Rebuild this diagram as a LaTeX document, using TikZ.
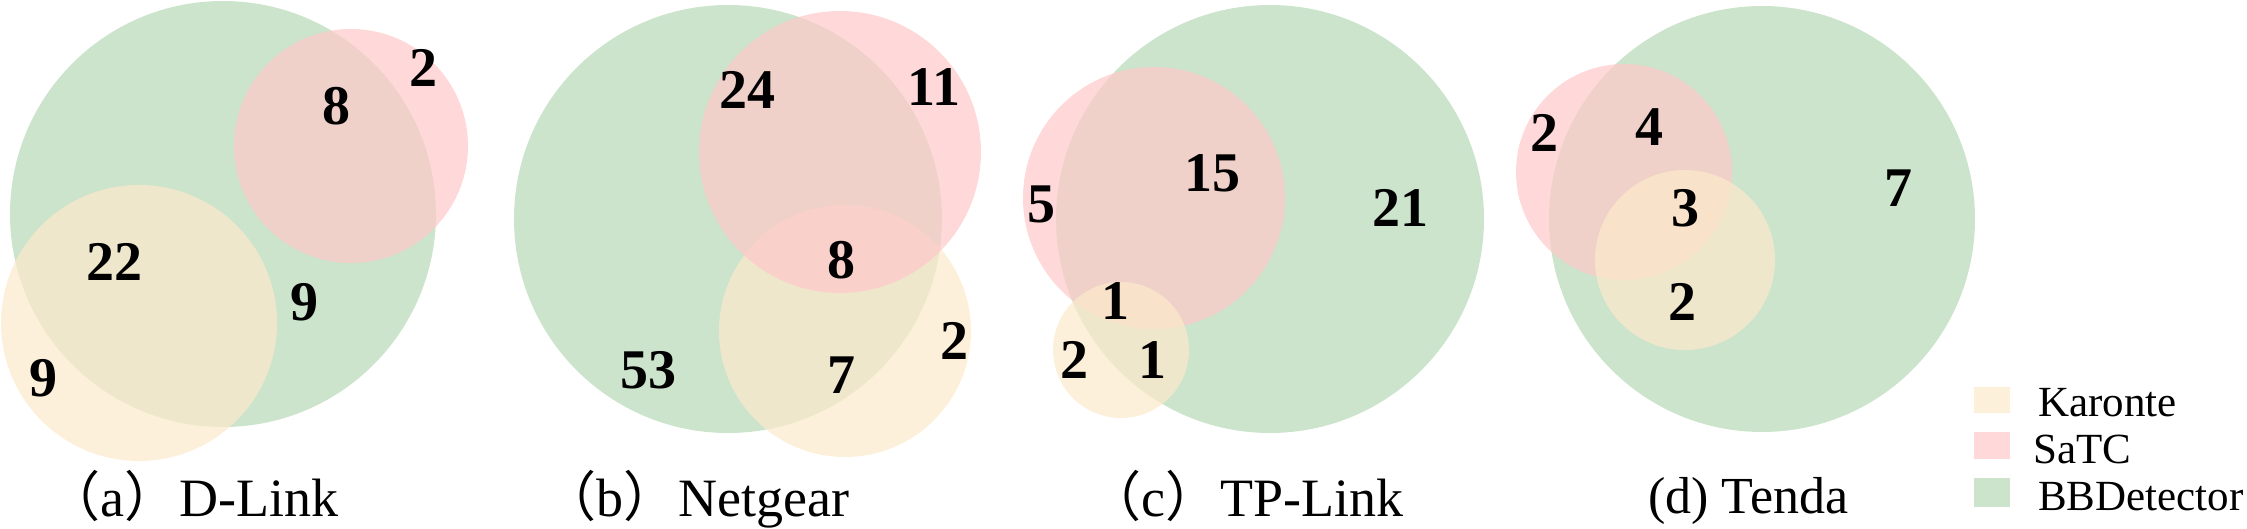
\documentclass[tikz,border=0pt]{standalone}
\usepackage{fontspec}
\setmainfont{Liberation Serif}
\newfontfamily\cjkfont{Noto Sans CJK SC}
\definecolor{gB}{RGB}{182,216,182}
\definecolor{pB}{RGB}{255,201,201}
\definecolor{yB}{RGB}{252,234,203}
\newcommand{\lpar}{{\cjkfont （}}
\newcommand{\rpar}{{\cjkfont ）}\hspace{1pt}}
\tikzset{
  gset/.style={fill=gB, fill opacity=0.7},
  pset/.style={fill=pB, fill opacity=0.7},
  yset/.style={fill=yB, fill opacity=0.7},
  num/.style={font=\fontsize{56}{56}\selectfont\bfseries, inner sep=0pt},
  capt/.style={font=\fontsize{54}{54}\selectfont, inner sep=0pt, anchor=base west},
  legt/.style={font=\fontsize{43}{43}\selectfont, inner sep=0pt, anchor=base west},
}
\begin{document}
\begin{tikzpicture}[x=1pt,y=-1pt]
\useasboundingbox (0,0) rectangle (2247,529);
% (a) D-Link
\fill[gset] (223,214) circle[radius=213pt];
\fill[pset] (351,146) circle[radius=117pt];
\fill[yset] (139,323) circle[radius=138pt];
\node[num] (a2) at (423,68) {2};
\node[num] (a8) at (336,106) {8};
\node[num] (a22) at (114,262) {22};
\node[num] (a9r) at (304,302) {9};
\node[num] (a9l) at (43,378) {9};
\node[capt] (capa) at (46,516) {\lpar a\rpar D-Link};
% (b) Netgear
\fill[gset] (728,219) circle[radius=214pt];
\fill[yset] (845,331) circle[radius=126pt];
\fill[pset] (840,152) circle[radius=141pt];
\node[num] (b24) at (747,90) {24};
\node[num] (b11) at (934,87) {11};
\node[num] (b8) at (841,260) {8};
\node[num] (b53) at (648,370) {53};
\node[num] (b7) at (841,375) {7};
\node[num] (b2) at (954,341) {2};
\node[capt] (capb) at (542,516) {\lpar b\rpar Netgear};
% (c) TP-Link
\fill[gset] (1270,219) circle[radius=214pt];
\fill[pset] (1154,198) circle[radius=131pt];
\fill[yset] (1121,350) circle[radius=68pt];
\node[num] (c5) at (1041,204) {5};
\node[num] (c15) at (1212,173) {15};
\node[num] (c21) at (1400,208) {21};
\node[num] (c1t) at (1115,301) {1};
\node[num] (c2) at (1074,360) {2};
\node[num] (c1r) at (1152,360) {1};
\node[capt] (capc) at (1087,516) {\lpar c\rpar TP-Link};
% (d) Tenda
\fill[gset] (1762,219) circle[radius=213pt];
\fill[pset] (1624,172) circle[radius=108pt];
\fill[yset] (1685,260) circle[radius=90pt];
\node[num] (d2t) at (1544,133) {2};
\node[num] (d4) at (1649,127) {4};
\node[num] (d3) at (1685,208) {3};
\node[num] (d2b) at (1682,302) {2};
\node[num] (d7) at (1898,188) {7};
\node[capt, font=\fontsize{52}{52}\selectfont] (capd) at (1648,513) {(d) Tenda};
% legend
\fill[yset] (1974,387) rectangle (2010,413);
\fill[pset] (1974,432) rectangle (2010,459);
\fill[gset] (1974,478) rectangle (2010,507);
\node[legt] (lk) at (2038,416) {Karonte};
\node[legt] (ls) at (2033,463) {SaTC};
\node[legt] (lb) at (2038,510) {BBDetector};
\end{tikzpicture}
\end{document}
